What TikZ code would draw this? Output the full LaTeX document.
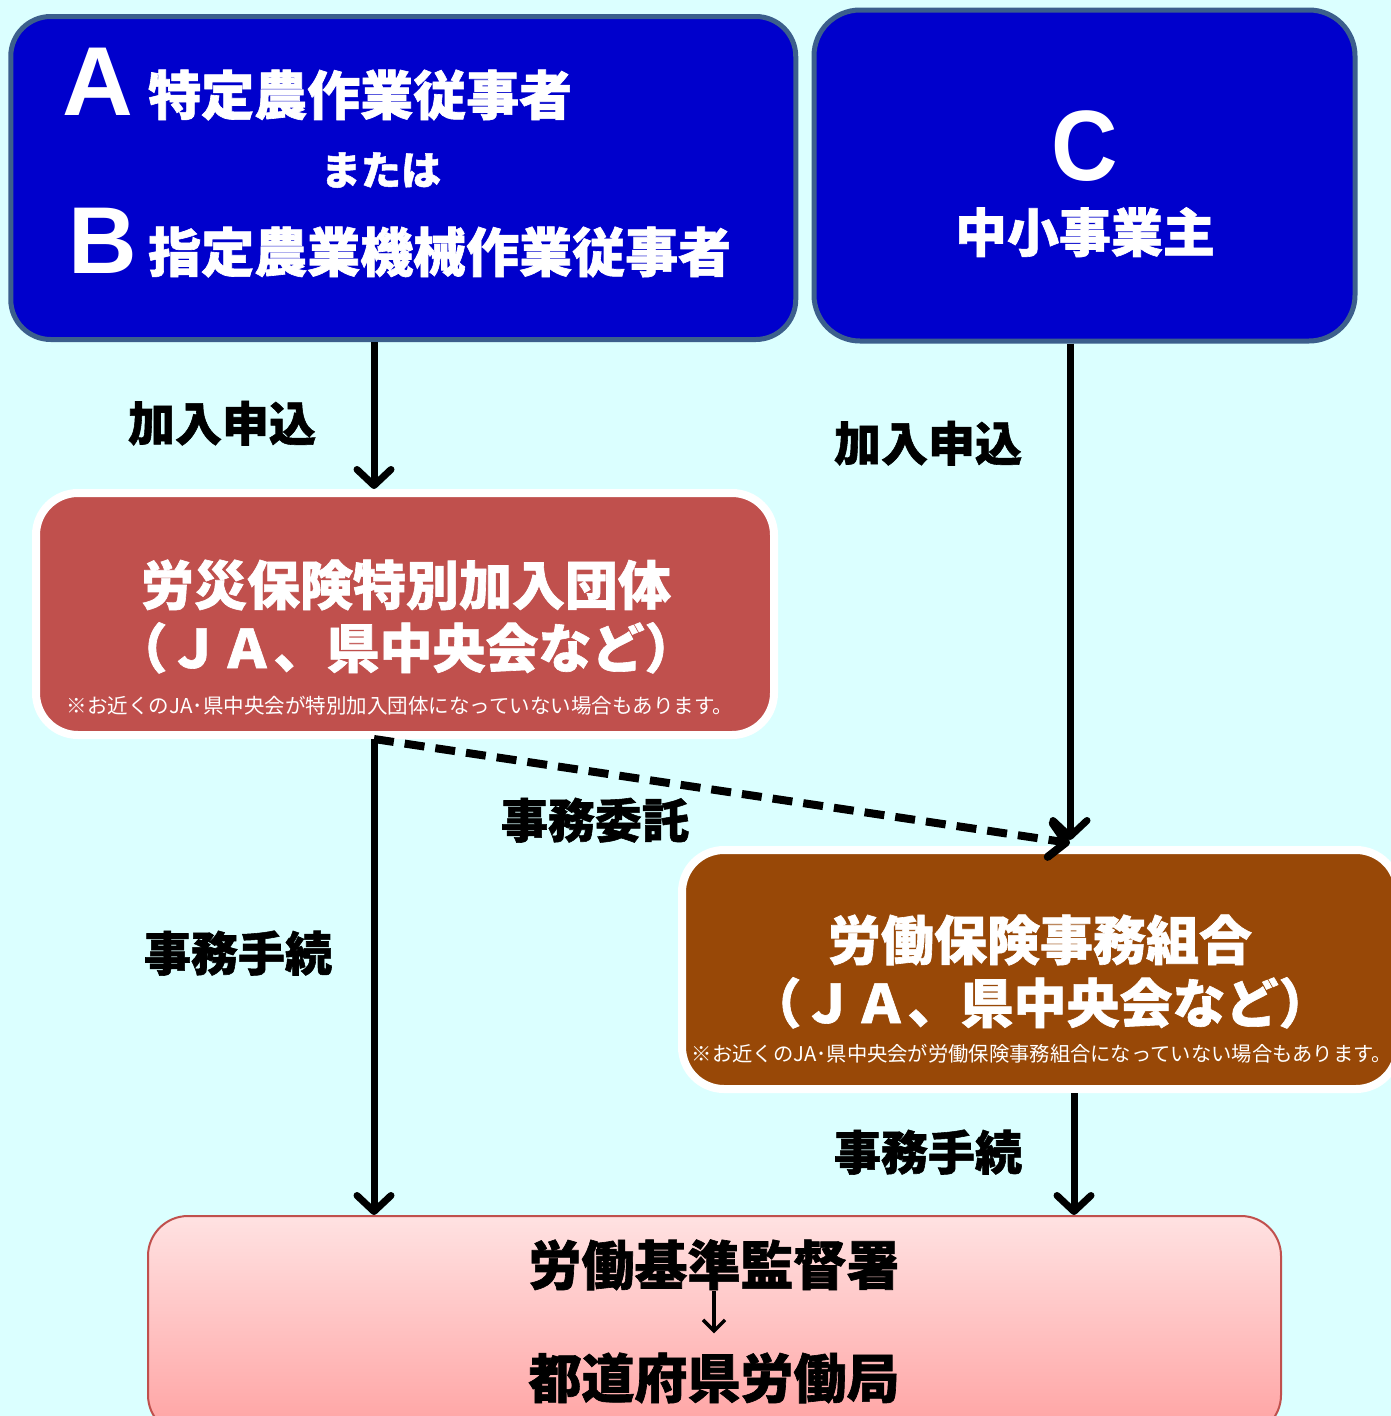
\documentclass[tikz,border=0pt]{standalone}
\usepackage{fontspec}
\setmainfont{Noto Sans CJK JP}[BoldFeatures={FakeBold=1.2}]
\newfontfamily\lat{Liberation Sans}
\usetikzlibrary{arrows.meta}
\definecolor{bgc}{HTML}{DBFFFF}
\definecolor{bluefill}{HTML}{0000CC}
\definecolor{blueline}{HTML}{3C5F8C}
\definecolor{redfill}{HTML}{C0504D}
\definecolor{brownfill}{HTML}{984807}
\definecolor{pinktop}{HTML}{FFE2E2}
\definecolor{pinkbot}{HTML}{FFA2A2}
\newcommand\fsz[1]{\fontsize{#1pt}{#1pt}\selectfont}
\tikzset{
  bluebox/.style={draw=blueline, line width=5pt, fill=bluefill, rounded corners=40pt, inner sep=0},
  whitebox/.style={draw=white, line width=8pt, rounded corners=42pt, inner sep=0},
  wtxt/.style={text=white, inner sep=0, font=\bfseries},
  ktxt/.style={text=black, inner sep=0, font=\bfseries},
  arr/.style={line width=7pt, -{Straight Barb[length=16pt,width=34pt,round]}},
  darr/.style={arr, line width=8pt, dash pattern=on 20pt off 11pt},
  smallarr/.style={line width=3.5pt, -{Straight Barb[length=11pt,width=22pt]}}
}
\begin{document}
\begin{tikzpicture}[x=1pt,y=-1pt]
\useasboundingbox (0,0) rectangle (1391,1416);
\clip (0,0) rectangle (1391,1416);
\fill[bgc] (0,0) rectangle (1391,1416);

% boxes
\node[bluebox, minimum width=785pt, minimum height=323pt] (AB) at (403.25,178) {};
\node[bluebox, rounded corners=46pt, minimum width=541pt, minimum height=331pt] (C) at (1084.5,175.5) {};
\node[whitebox, fill=redfill, minimum width=738pt, minimum height=242pt] (red) at (405,614) {};
\node[whitebox, fill=brownfill, minimum width=716pt, minimum height=239pt] (brown) at (1040,969.5) {};
\node[draw=redfill, line width=2pt, rounded corners=40pt, top color=pinktop, bottom color=pinkbot, minimum width=1133pt, minimum height=219pt, inner sep=0] (pink) at (714.5,1325.5) {};

% texts in AB
\node[wtxt, anchor=base west] (tA) at (62,115) {\lat\fsz{98}A};
\node[wtxt, anchor=base west] (tA2) at (148,115) {\fsz{53}特定農作業従事者};
\node[wtxt, anchor=base] (tor) at (381,185) {\fsz{40}または};
\node[wtxt, anchor=base west] (tB) at (68,273) {\lat\fsz{95}B};
\node[wtxt, anchor=base west] (tB2) at (148,272) {\fsz{53}指定農業機械作業従事者};

% texts in C
\node[wtxt, anchor=base] (tC) at (1085,180) {\lat\fsz{100}\scalebox{0.92}[1]{C}};
\node[wtxt, anchor=base] (tC2) at (1085,252) {\fsz{52}中小事業主};

% texts in red
\node[wtxt, anchor=base] (r1) at (406,605) {\fsz{53}労災保険特別加入団体};
\node[wtxt, anchor=base] (r2) at (406,668) {\fsz{53}（ＪＡ、県中央会など）};
\node[wtxt, font=\mdseries, anchor=base] (r3) at (400,713) {\fsz{20.5}※お近くのJA･県中央会が特別加入団体になっていない場合もあります。};

% texts in brown
\node[wtxt, anchor=base] (b1) at (1040,960) {\fsz{53}労働保険事務組合};
\node[wtxt, anchor=base] (b2) at (1040,1023) {\fsz{53}（ＪＡ、県中央会など）};
\node[wtxt, font=\mdseries, anchor=base] (b3) at (1042,1061) {\fsz{20.3}※お近くのJA･県中央会が労働保険事務組合になっていない場合もあります。};

% texts in pink
\node[ktxt, anchor=base] (p1) at (714,1285) {\fsz{53}労働基準監督署};
\node[ktxt, anchor=base] (p2) at (714,1398) {\fsz{53}都道府県労働局};
\draw[smallarr, shorten <=1pt, shorten >=19pt] (p1.south) -- (p2.north);

% labels
\node[ktxt, anchor=base] (l1) at (222,441) {\fsz{47}加入申込};
\node[ktxt, anchor=base] (l2) at (928,461) {\fsz{47}加入申込};
\node[ktxt, anchor=base] (l3) at (595,838) {\fsz{47}事務委託};
\node[ktxt, anchor=base] (l4) at (238,971) {\fsz{47}事務手続};
\node[ktxt, anchor=base] (l5) at (928,1170) {\fsz{47}事務手続};

% connectors
\coordinate (xl) at (374,0);
\coordinate (xr) at (1070,0);
\coordinate (xr2) at (1074,0);
\draw[arr] (AB.south -| xl) -- (red.north -| xl);
\draw[arr] (C.south -| xr) -- ([yshift=6pt]brown.north -| xr);
\draw[darr] (red.south -| xl) -- ([yshift=3pt]brown.north -| xr);
\draw[arr] (red.south -| xl) -- (pink.north -| xl);
\draw[arr] (brown.south -| xr2) -- (pink.north -| xr2);
\end{tikzpicture}
\end{document}
